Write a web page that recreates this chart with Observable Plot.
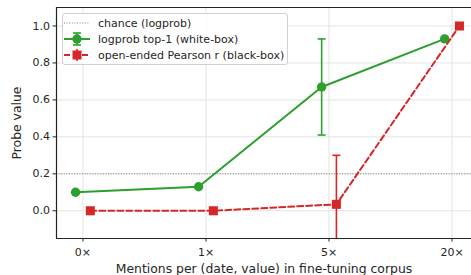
<!DOCTYPE html>
<html>
<head>
<meta charset="utf-8">
<script src="https://cdn.jsdelivr.net/npm/d3@7"></script>
<script src="https://cdn.jsdelivr.net/npm/@observablehq/plot@0.6"></script>
<style>
  html, body { margin: 0; padding: 0; background: #fff; }
  #wrap { position: relative; width: 471px; height: 275px; overflow: hidden; font-family: "DejaVu Sans", sans-serif; }
  #legend { position: absolute; left: 62px; top: 13px; width: 224px; height: 50px; border: 1px solid #d0d0d0; border-radius: 3px; background: rgba(255,255,255,0.85); font-size: 11px; color: #262626; }
  .row { position: absolute; left: 0; height: 16px; display: flex; align-items: center; }
  .row svg { margin-left: 1px; }
  .row span { margin-left: 8px; white-space: nowrap; }
  svg text { fill: #262626; }
</style>
</head>
<body>
<div id="wrap"><div id="legend"></div></div>
<script>
// ---- data ----
const categories = ["0×", "1×", "5×", "20×"];
const logprobTop1 = [0.10, 0.13, 0.67, 0.93];
const logprobLow  = [null, null, 0.41, null];
const logprobHigh = [null, null, 0.93, null];
const pearsonR    = [0.0, 0.0, 0.035, 1.0];
const pearsonLow  = [null, null, -0.23, null];
const pearsonHigh = [null, null, 0.30, null];
const chance = 0.2;
const yTicks = [0.0, 0.2, 0.4, 0.6, 0.8, 1.0];
const seriesNames = ["chance (logprob)", "logprob top-1 (white-box)", "open-ended Pearson r (black-box)"];

const green = "#2ca02c", red = "#d62728";
const dodge = 0.06;
const green_d = categories.map((c, i) => ({i, x: i - dodge, y: logprobTop1[i], lo: logprobLow[i], hi: logprobHigh[i]}));
const red_d = categories.map((c, i) => ({i, x: i + dodge, y: pearsonR[i], lo: pearsonLow[i], hi: pearsonHigh[i]}));
const gErr = green_d.filter(d => d.lo != null);
const rErr = red_d.filter(d => d.lo != null);

const cap = {draw(ctx, size) { const r = 4; ctx.moveTo(-r, 0); ctx.lineTo(r, 0); }};

const plot = Plot.plot({
  width: 471, height: 275,
  marginLeft: 56, marginRight: 0, marginTop: 7, marginBottom: 37,
  style: {fontFamily: "'DejaVu Sans', sans-serif", fontSize: "11px", color: "#262626", background: "white"},
  x: {type: "linear", domain: [-0.215, 3.158]},
  y: {domain: [-0.15, 1.10]},
  marks: [
    Plot.gridX([0, 1, 2, 3], {stroke: "#e3e3e3", strokeOpacity: 1, strokeWidth: 1}),
    Plot.gridY(yTicks, {stroke: "#e3e3e3", strokeOpacity: 1, strokeWidth: 1}),
    Plot.ruleY([chance], {stroke: "#808080", strokeWidth: 1, strokeDasharray: "1,1.6"}),
    // green
    Plot.ruleX(gErr, {x: "x", y1: "lo", y2: "hi", stroke: green, strokeWidth: 1.6, clip: true}),
    Plot.dot(gErr, {x: "x", y: "lo", symbol: cap, stroke: green, strokeWidth: 1.6, clip: true}),
    Plot.dot(gErr, {x: "x", y: "hi", symbol: cap, stroke: green, strokeWidth: 1.6, clip: true}),
    Plot.line(green_d, {x: "x", y: "y", stroke: green, strokeWidth: 2}),
    Plot.dot(green_d, {x: "x", y: "y", fill: green, r: 4.7, symbol: "circle"}),
    // red
    Plot.ruleX(rErr, {x: "x", y1: "lo", y2: "hi", stroke: red, strokeWidth: 1.6, clip: true}),
    Plot.dot(rErr, {x: "x", y: "lo", symbol: cap, stroke: red, strokeWidth: 1.6, clip: true}),
    Plot.dot(rErr, {x: "x", y: "hi", symbol: cap, stroke: red, strokeWidth: 1.6, clip: true}),
    Plot.line(red_d, {x: "x", y: "y", stroke: red, strokeWidth: 2, strokeDasharray: "6,3"}),
    Plot.dot(red_d, {x: "x", y: "y", fill: red, r: 5.1, symbol: "square"}),
    // spines
    Plot.ruleX([-0.215], {stroke: "#222", strokeWidth: 1.2}),
    Plot.ruleY([-0.15, 1.10], {stroke: "#222", strokeWidth: 1.2}),
    Plot.axisX({ticks: [0, 1, 2, 3], tickFormat: i => categories[i], tickSize: 3.5, tickPadding: 6,
      label: "Mentions per (date, value) in fine-tuning corpus", labelAnchor: "center", labelArrow: "none", labelOffset: 34,
      fontSize: 11}),
    Plot.axisY({ticks: yTicks, tickFormat: d3.format(".1f"), tickSize: 3.5, tickPadding: 3,
      label: "Probe value", labelAnchor: "center", labelArrow: "none", labelOffset: 44, fontSize: 11})
  ]
});
document.getElementById("wrap").prepend(plot);
// axis titles slightly larger than tick labels
plot.querySelectorAll("g[aria-label='x-axis label'] text, g[aria-label='y-axis label'] text").forEach(t => t.setAttribute("font-size", "12.4"));

// legend
const legend = document.getElementById("legend");
const handles = [
  `<svg width="26" height="14"><line x1="0" x2="26" y1="7" y2="7" stroke="#808080" stroke-width="1" stroke-dasharray="1,1.6"/></svg>`,
  `<svg width="26" height="14"><line x1="0" x2="26" y1="7" y2="7" stroke="${green}" stroke-width="2"/><line x1="13" x2="13" y1="1" y2="13" stroke="${green}" stroke-width="1.6"/><line x1="9" x2="17" y1="1" y2="1" stroke="${green}" stroke-width="1.6"/><line x1="9" x2="17" y1="13" y2="13" stroke="${green}" stroke-width="1.6"/><circle cx="13" cy="7" r="4.7" fill="${green}"/></svg>`,
  `<svg width="26" height="14"><line x1="0" x2="26" y1="7" y2="7" stroke="${red}" stroke-width="2" stroke-dasharray="6,3"/><line x1="13" x2="13" y1="1" y2="13" stroke="${red}" stroke-width="1.6"/><rect x="8.5" y="2.5" width="9" height="9" fill="${red}"/></svg>`
];
seriesNames.forEach((name, k) => {
  const row = document.createElement("div");
  row.className = "row";
  row.style.top = (1 + 16 * k) + "px";
  row.innerHTML = handles[k] + `<span>${name}</span>`;
  legend.appendChild(row);
});
</script>
</body>
</html>
